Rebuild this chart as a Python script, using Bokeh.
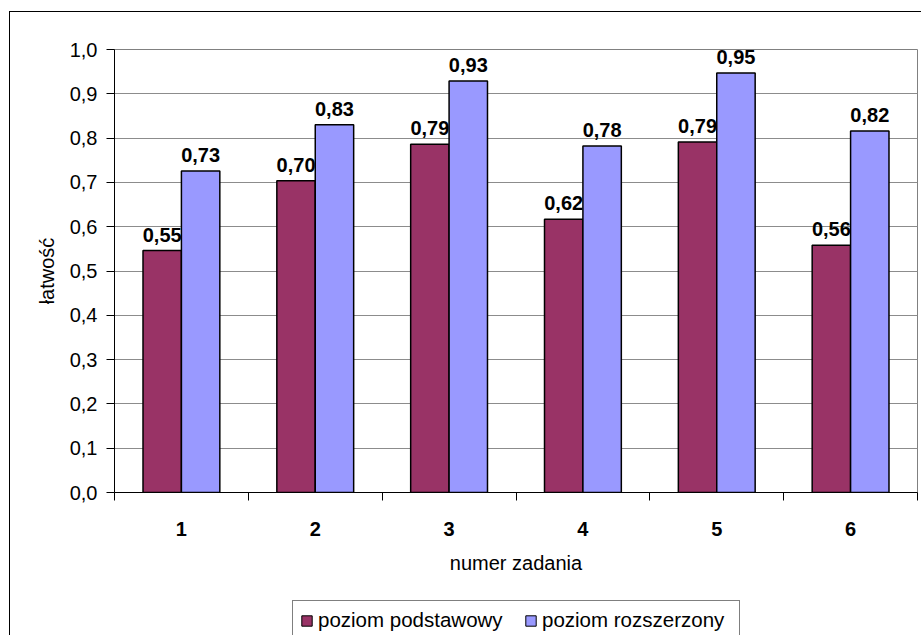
from bokeh.plotting import figure
from bokeh.layouts import column
from bokeh.models import (ColumnDataSource, Range1d, FixedTicker, CustomJSTickFormatter,
                          Legend, LegendItem)
from bokeh.core.properties import value
from bokeh.embed import file_html
from bokeh.resources import INLINE

# task numbers and facility index per level
categories = ["1", "2", "3", "4", "5", "6"]
basic_level = [0.546, 0.704, 0.786, 0.617, 0.791, 0.558]
extended_level = [0.726, 0.830, 0.929, 0.782, 0.947, 0.816]
series_names = ["poziom podstawowy", "poziom rozszerzony"]
y_ticks = [0.0, 0.1, 0.2, 0.3, 0.4, 0.5, 0.6, 0.7, 0.8, 0.9, 1.0]

FONT = "Liberation Sans"
MAROON = "#993366"
LILAC = "#9999FF"

# chart area sits inside a thin frame offset from the page corner
OFF_X, OFF_Y = 10, 12
W = 921 - OFF_X
H_MAIN = 598 - OFF_Y          # main plot canvas
H_LEG = 40                    # strip holding the legend
LEFT, RIGHT, TOP, BOTTOM = 114 - OFF_X, 4, 49 - OFF_Y, 598 - 492

n = len(categories)
centers = [i + 0.5 for i in range(n)]
bar_w = 0.287
off = 0.1435


def fmt(v):
    return f"{v:.2f}".replace(".", ",")


src_a = ColumnDataSource(dict(x=[c - off for c in centers], top=basic_level,
                              lbl=[fmt(v) for v in basic_level]))
src_b = ColumnDataSource(dict(x=[c + off for c in centers], top=extended_level,
                              lbl=[fmt(v) for v in extended_level]))

p = figure(width=W, height=H_MAIN, output_backend="svg", toolbar_location=None,
           x_range=Range1d(0, n), y_range=Range1d(0, 1.0),
           min_border_left=LEFT, min_border_right=RIGHT,
           min_border_top=TOP, min_border_bottom=BOTTOM)
p.background_fill_color = "white"
p.border_fill_color = "white"
p.outline_line_color = "#808080"
p.outline_line_width = 1

# y axis
p.yaxis.ticker = FixedTicker(ticks=y_ticks)
p.yaxis.formatter = CustomJSTickFormatter(code="return tick.toFixed(1).replace('.', ',')")
p.yaxis.axis_label = "łatwość"
p.yaxis.axis_label_text_font = FONT
p.yaxis.axis_label_text_font_size = "20px"
p.yaxis.axis_label_text_font_style = "normal"
p.yaxis.axis_label_text_color = "black"
p.yaxis.axis_label_standoff = 9
p.yaxis.major_label_text_font = FONT
p.yaxis.major_label_text_font_size = "20px"
p.yaxis.major_label_text_color = "black"
p.yaxis.major_label_standoff = 9
p.yaxis.major_tick_out = 8
p.yaxis.major_tick_in = 0
p.yaxis.minor_tick_line_color = None
p.yaxis.axis_line_color = "black"
p.yaxis.major_tick_line_color = "black"

# x axis: labels at the group centres, ticks at the group boundaries
p.xaxis.ticker = FixedTicker(ticks=centers, minor_ticks=list(range(n + 1)))
p.xaxis.formatter = CustomJSTickFormatter(args=dict(labels=categories),
                                          code="return labels[Math.floor(tick)]")
p.xaxis.major_tick_out = 0
p.xaxis.major_tick_in = 0
p.xaxis.minor_tick_out = 8
p.xaxis.minor_tick_in = 0
p.xaxis.minor_tick_line_color = "black"
p.xaxis.axis_line_color = "black"
p.xaxis.major_label_text_font = FONT
p.xaxis.major_label_text_font_size = "20px"
p.xaxis.major_label_text_font_style = "bold"
p.xaxis.major_label_text_color = "black"
p.xaxis.major_label_standoff = 21
p.xaxis.axis_label = "numer zadania"
p.xaxis.axis_label_text_font = FONT
p.xaxis.axis_label_text_font_size = "20px"
p.xaxis.axis_label_text_font_style = "normal"
p.xaxis.axis_label_text_color = "black"
p.xaxis.axis_label_standoff = 13

p.xgrid.grid_line_color = None
p.ygrid.ticker = FixedTicker(ticks=y_ticks)
p.ygrid.grid_line_color = "#8c8c8c"
p.ygrid.grid_line_width = 1

label_kw = dict(text="lbl", text_align="center", text_baseline="alphabetic",
                y_offset=-16, text_font=value(FONT), text_font_size="20px",
                text_font_style="bold", text_color="black")
bar_kw = dict(x="x", top="top", width=bar_w, line_color="black")

p.vbar(source=src_a, fill_color=MAROON, line_width=1.5, **bar_kw)
p.text(x="x", y="top", source=src_a, **label_kw)
p.vbar(source=src_b, fill_color=LILAC, line_width=1.5, **bar_kw)
p.text(x="x", y="top", source=src_b, **label_kw)

# legend strip under the axis title; its y range lies above the data,
# so only the legend swatches of these renderers are visible
leg = figure(width=W, height=H_LEG, output_backend="svg", toolbar_location=None,
             x_range=Range1d(0, n), y_range=Range1d(5, 6),
             x_axis_location=None, y_axis_location=None,
             min_border=0)
leg.grid.visible = False
leg.outline_line_color = None
leg.background_fill_color = "white"
leg.border_fill_color = "white"
la = leg.vbar(source=src_a, fill_color=MAROON, line_width=1, **bar_kw)
lb = leg.vbar(source=src_b, fill_color=LILAC, line_width=1, **bar_kw)

legend = Legend(items=[LegendItem(label=value(series_names[0]), renderers=[la]),
                       LegendItem(label=value(series_names[1]), renderers=[lb])],
                orientation="horizontal", location=(178, -2),
                glyph_width=13, glyph_height=13, label_standoff=5, spacing=16,
                padding=7, margin=0, label_height=20, label_width=190,
                label_text_font=FONT, label_text_font_size="20.5px",
                label_text_color="black",
                border_line_color="black", border_line_width=1,
                background_fill_color="white", background_fill_alpha=1)
leg.add_layout(legend, "center")

page = column(p, leg, spacing=0, margin=(11, 0, 0, 9),
              styles={"border-top": "1px solid black", "border-left": "1px solid black"})

open("out.html", "w").write(file_html(page, INLINE))
